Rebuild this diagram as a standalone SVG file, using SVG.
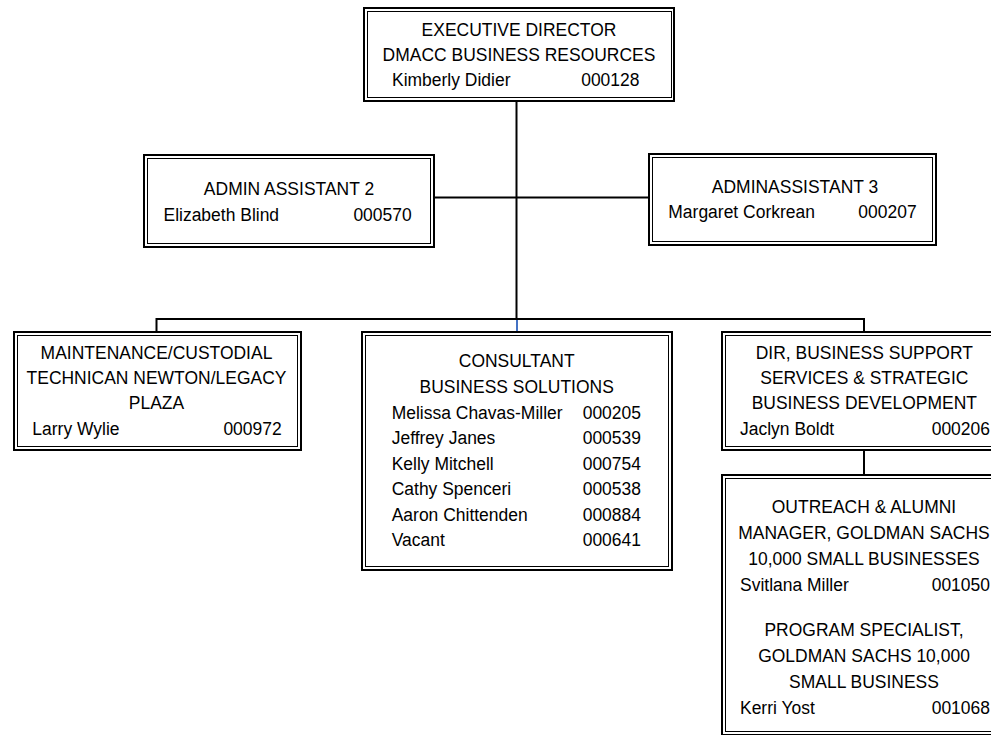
<svg xmlns="http://www.w3.org/2000/svg" width="991" height="735" viewBox="0 0 991 735">
<style>
  .outer { fill: #ffffff; stroke: #000000; stroke-width: 2; }
  .inner { fill: none; stroke: #000000; stroke-width: 1; }
  .conn { fill: none; stroke: #000000; stroke-width: 2; }
  .blue { fill: none; stroke: #4472C4; stroke-width: 2; }
  text { font-family: "Liberation Sans", Arial, sans-serif; font-size: 19px; fill: #000000; }
  .c { text-anchor: middle; }
  .r { text-anchor: end; }
</style>
<rect x="0" y="0" width="991" height="735" fill="#ffffff"/>
<g id="connectors">
  <path class="conn" d="M516.5,102 V319"/>
  <path class="conn" d="M435,197.5 H648"/>
  <path class="conn" d="M156.5,331 V319 H864 V331"/>
  <path class="blue" d="M517,320 V331"/>
  <path class="conn" d="M864,451 V474"/>
</g>
<g id="executive-director">
  <rect class="outer" x="364" y="8" width="310" height="93"/>
  <rect class="inner" x="367.5" y="11.5" width="304" height="86"/>
  <g transform="scale(0.92 1)">
    <text class="c" x="564.13" y="36">EXECUTIVE DIRECTOR</text>
    <text class="c" x="564.13" y="61.5">DMACC BUSINESS RESOURCES</text>
    <text x="426.09" y="86.5">Kimberly Didier</text>
    <text class="r" x="695.11" y="86.5">000128</text>
  </g>
</g>
<g id="admin-assistant-2">
  <rect class="outer" x="144" y="155" width="290" height="92"/>
  <rect class="inner" x="147.5" y="158.5" width="283" height="85"/>
  <g transform="scale(0.92 1)">
    <text class="c" x="314.13" y="195">ADMIN ASSISTANT 2</text>
    <text x="177.72" y="221.5">Elizabeth Blind</text>
    <text class="r" x="447.5" y="221.5">000570</text>
  </g>
</g>
<g id="admin-assistant-3">
  <rect class="outer" x="649" y="154" width="287" height="91"/>
  <rect class="inner" x="652.5" y="157.5" width="280" height="84"/>
  <g transform="scale(0.92 1)">
    <text class="c" x="864.13" y="193.5">ADMINASSISTANT 3</text>
    <text x="726.41" y="218.5">Margaret Corkrean</text>
    <text class="r" x="996.41" y="218.5">000207</text>
  </g>
</g>
<g id="maintenance">
  <rect class="outer" x="14" y="332" width="287" height="118"/>
  <rect class="inner" x="17.5" y="335.5" width="280" height="111"/>
  <g transform="scale(0.92 1)">
    <text class="c" x="170.11" y="359.5">MAINTENANCE/CUSTODIAL</text>
    <text class="c" x="170.11" y="384.5">TECHNICAN NEWTON/LEGACY</text>
    <text class="c" x="170.11" y="409.5">PLAZA</text>
    <text x="35.11" y="435">Larry Wylie</text>
    <text class="r" x="306.2" y="435">000972</text>
  </g>
</g>
<g id="consultant">
  <rect class="outer" x="362" y="332" width="310" height="238"/>
  <rect class="inner" x="365.5" y="335.5" width="303" height="231"/>
  <g transform="scale(0.92 1)">
    <text class="c" x="561.63" y="367.5">CONSULTANT</text>
    <text class="c" x="561.63" y="393.5">BUSINESS SOLUTIONS</text>
    <text x="425.76" y="419">Melissa Chavas-Miller</text>
    <text class="r" x="696.74" y="419">000205</text>
    <text x="425.76" y="444.5">Jeffrey Janes</text>
    <text class="r" x="696.74" y="444.5">000539</text>
    <text x="425.76" y="470">Kelly Mitchell</text>
    <text class="r" x="696.74" y="470">000754</text>
    <text x="425.76" y="495.5">Cathy Spenceri</text>
    <text class="r" x="696.74" y="495.5">000538</text>
    <text x="425.76" y="521">Aaron Chittenden</text>
    <text class="r" x="696.74" y="521">000884</text>
    <text x="425.76" y="546.5">Vacant</text>
    <text class="r" x="696.74" y="546.5">000641</text>
  </g>
</g>
<g id="dir-business-support">
  <rect class="outer" x="722" y="332" width="287" height="118"/>
  <rect class="inner" x="725.5" y="335.5" width="280" height="111"/>
  <g transform="scale(0.92 1)">
    <text class="c" x="939.46" y="359.5">DIR, BUSINESS SUPPORT</text>
    <text class="c" x="939.46" y="384.5">SERVICES &amp; STRATEGIC</text>
    <text class="c" x="939.46" y="409.5">BUSINESS DEVELOPMENT</text>
    <text x="804.35" y="435">Jaclyn Boldt</text>
    <text class="r" x="1076.09" y="435">000206</text>
  </g>
</g>
<g id="outreach-program">
  <rect class="outer" x="722" y="475" width="287" height="260"/>
  <rect class="inner" x="725.5" y="478.5" width="280" height="253"/>
  <g transform="scale(0.92 1)">
    <text class="c" x="939.13" y="513">OUTREACH &amp; ALUMNI</text>
    <text class="c" x="939.13" y="539">MANAGER, GOLDMAN SACHS</text>
    <text class="c" x="939.13" y="565">10,000 SMALL BUSINESSES</text>
    <text x="804.35" y="591">Svitlana Miller</text>
    <text class="r" x="1076.09" y="591">001050</text>
    <text class="c" x="939.13" y="636">PROGRAM SPECIALIST,</text>
    <text class="c" x="939.13" y="662">GOLDMAN SACHS 10,000</text>
    <text class="c" x="939.13" y="688">SMALL BUSINESS</text>
    <text x="804.35" y="714.5">Kerri Yost</text>
    <text class="r" x="1076.09" y="714.5">001068</text>
  </g>
</g>
</svg>
